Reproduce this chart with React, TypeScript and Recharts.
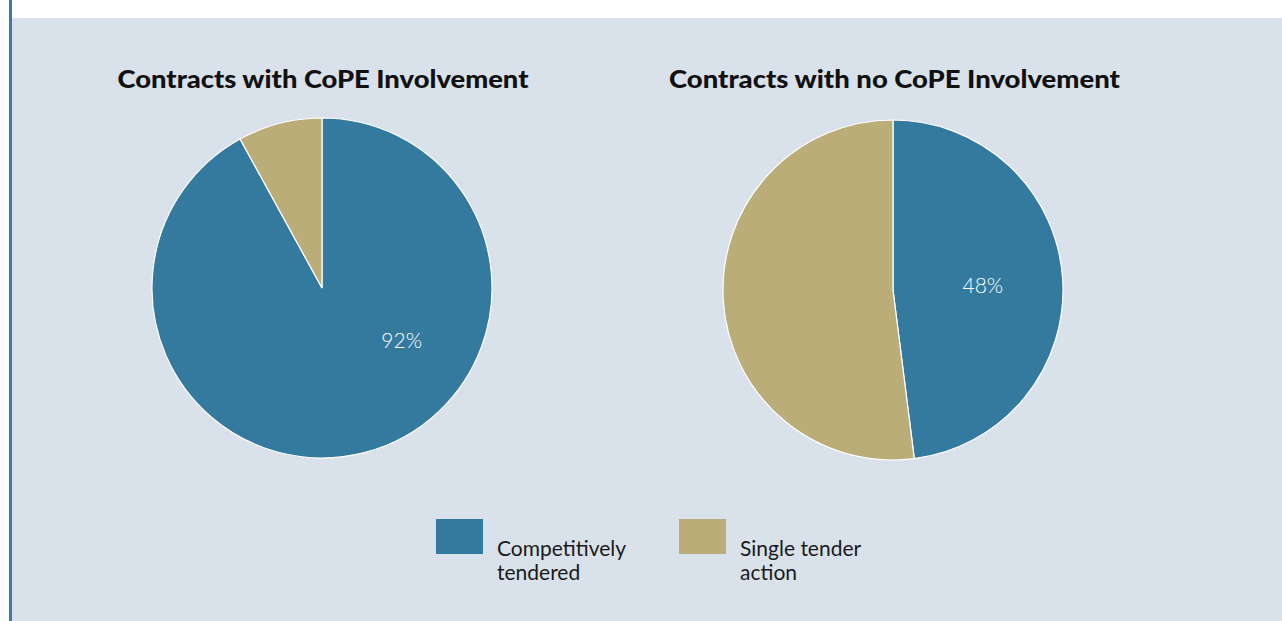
import React from "react";
import { PieChart, Pie, Cell } from "recharts";

const categories = ["Competitively tendered", "Single tender action"];
const legendLines = [
  ["Competitively", "tendered"],
  ["Single tender", "action"],
];
const withCoPE = [92, 8];
const withoutCoPE = [48, 52];
const chartTitles = [
  "Contracts with CoPE Involvement",
  "Contracts with no CoPE Involvement",
];

const COLORS = ["#347a9f", "#bbad78"];
const BG = "#d9e1ea";
const TITLE_FONT = "Lato, 'Open Sans', sans-serif";

const makeData = (vals: number[]) =>
  categories.map((name, i) => ({ name, value: vals[i] }));

const dataA = makeData(withCoPE);
const dataB = makeData(withoutCoPE);

const RAD = Math.PI / 180;

// label placement: radius and optional fixed angle (deg, recharts convention)
const makeLabel =
  (radius: number, fixedAngle: number | null) => (props: any) => {
    const { cx, cy, midAngle, percent, index } = props;
    if (index !== 0) return null;
    const a = fixedAngle === null ? midAngle : fixedAngle;
    const x = cx + radius * Math.cos(-a * RAD);
    const y = cy + radius * Math.sin(-a * RAD);
    return (
      <text
        x={x}
        y={y}
        fill="#ffffff"
        fontSize={21}
        fontFamily={TITLE_FONT}
        fontWeight={300}
        textAnchor="middle"
        dominantBaseline="central"
      >
        {`${Math.round(percent * 100)}%`}
      </text>
    );
  };

export default function App() {
  return (
    <div
      style={{
        position: "absolute",
        left: 0,
        top: 0,
        width: 1282,
        height: 621,
        background: "#ffffff",
        overflow: "hidden",
      }}
    >
      <div
        style={{
          position: "absolute",
          left: 12,
          top: 18,
          width: 1270,
          height: 603,
          background: BG,
        }}
      />
      <div
        style={{
          position: "absolute",
          left: 9,
          top: 0,
          width: 3,
          height: 621,
          background: "#3b7ba6",
        }}
      />
      <div style={{ position: "absolute", left: 0, top: 0 }}>
        <PieChart
          width={1282}
          height={621}
          margin={{ top: 0, right: 0, bottom: 0, left: 0 }}
        >
          <Pie
            data={dataA}
            dataKey="value"
            nameKey="name"
            cx={322}
            cy={288}
            outerRadius={170}
            startAngle={90}
            endAngle={-270}
            stroke="#ffffff"
            strokeWidth={1.2}
            labelLine={false}
            label={makeLabel(95, -33)}
            isAnimationActive={false}
          >
            {dataA.map((d, i) => (
              <Cell key={d.name} fill={COLORS[i]} />
            ))}
          </Pie>
          <Pie
            data={dataB}
            dataKey="value"
            nameKey="name"
            cx={893}
            cy={290}
            outerRadius={170}
            startAngle={90}
            endAngle={-270}
            stroke="#ffffff"
            strokeWidth={1.2}
            labelLine={false}
            label={makeLabel(90, null)}
            isAnimationActive={false}
          >
            {dataB.map((d, i) => (
              <Cell key={d.name} fill={COLORS[i]} />
            ))}
          </Pie>
        </PieChart>
      </div>
      <svg
        width={1282}
        height={621}
        style={{ position: "absolute", left: 0, top: 0, pointerEvents: "none" }}
      >
        <text
          x={323}
          y={88}
          textAnchor="middle"
          fontFamily={TITLE_FONT}
          fontWeight={900}
          fontSize={25}
          fill="#111111"
          textLength={411}
          lengthAdjust="spacingAndGlyphs"
        >
          {chartTitles[0]}
        </text>
        <text
          x={894.5}
          y={88}
          textAnchor="middle"
          fontFamily={TITLE_FONT}
          fontWeight={900}
          fontSize={25}
          fill="#111111"
          textLength={451}
          lengthAdjust="spacingAndGlyphs"
        >
          {chartTitles[1]}
        </text>
        {categories.map((c, i) => {
          const x0 = 436 + i * 243;
          return (
            <g key={c}>
              <rect x={x0} y={519} width={47} height={35} fill={COLORS[i]} />
              {legendLines[i].map((line, j) => (
                <text
                  key={line}
                  x={x0 + 61}
                  y={556 + j * 24}
                  fontFamily={TITLE_FONT}
                  fontSize={21}
                  fill="#1a1a1a"
                >
                  {line}
                </text>
              ))}
            </g>
          );
        })}
      </svg>
    </div>
  );
}
